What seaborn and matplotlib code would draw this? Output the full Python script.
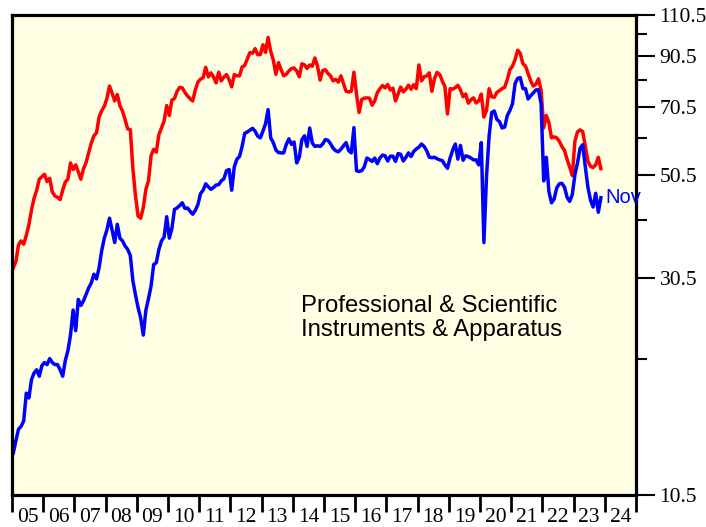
import numpy as np
import pandas as pd
import matplotlib
matplotlib.use("Agg")
import matplotlib.pyplot as plt
import seaborn as sns
from matplotlib.ticker import FixedLocator, FixedFormatter, NullFormatter

# ---------------- data ----------------
years = list(range(2005, 2025))
year_labels = [f"{y % 100:02d}" for y in years]
y_major = [10.5, 30.5, 50.5, 70.5, 90.5, 110.5]
y_minor = [20.5, 40.5, 60.5, 80.5, 100.5]
title_text = "Professional & Scientific\nInstruments & Apparatus"
end_label = "Nov"

# monthly, Jan 2005 .. Nov 2023
red_values = [
    32.0, 33.0, 35.8, 36.5, 35.9, 37.5, 39.5, 42.5, 45.0, 46.8, 49.4, 50.0,  # 2005
    50.6, 48.8, 49.6, 46.4, 45.5, 45.2, 44.7, 46.8, 48.7, 49.4, 53.5, 51.8,  # 2006
    53.0, 51.2, 49.4, 52.0, 53.6, 56.2, 59.0, 61.1, 62.0, 67.0, 69.1, 70.6,  # 2007
    73.4, 78.0, 75.3, 72.5, 74.8, 70.8, 69.0, 66.2, 63.2, 63.0, 52.0, 45.5,  # 2008
    41.2, 40.8, 43.0, 47.0, 49.0, 55.5, 57.2, 56.4, 61.5, 63.5, 65.7, 70.9,  # 2009
    67.5, 72.8, 73.4, 76.0, 77.5, 77.3, 75.6, 74.3, 73.3, 72.5, 76.5, 79.5,  # 2010
    80.7, 81.2, 85.5, 81.6, 83.2, 81.5, 79.2, 83.5, 80.0, 81.5, 82.5, 80.5,  # 2011
    77.7, 82.5, 82.0, 82.0, 85.6, 86.3, 89.0, 91.9, 91.6, 93.7, 91.0, 91.0,  # 2012
    95.5, 92.0, 99.0, 92.5, 88.6, 82.6, 87.5, 84.5, 82.0, 82.6, 84.0, 85.0,  # 2013
    85.2, 84.0, 81.6, 87.0, 86.5, 85.0, 86.5, 86.0, 89.5, 86.0, 80.3, 84.2,  # 2014
    84.5, 83.0, 82.0, 80.0, 80.6, 79.5, 82.0, 79.0, 76.0, 75.8, 76.0, 83.5,  # 2015
    75.0, 68.5, 73.0, 73.5, 73.6, 73.5, 71.0, 72.5, 75.5, 77.0, 78.2, 77.3,  # 2016
    78.6, 76.5, 77.2, 72.5, 75.0, 77.6, 75.8, 76.8, 78.3, 76.8, 78.5, 77.0,  # 2017
    86.5, 80.0, 81.6, 82.0, 83.2, 76.0, 81.0, 83.4, 82.5, 80.0, 77.8, 68.0,  # 2018
    77.0, 76.8, 77.4, 78.3, 76.5, 74.0, 75.0, 71.7, 72.9, 73.6, 71.8, 72.5,  # 2019
    75.0, 67.0, 69.2, 77.0, 74.0, 73.8, 75.6, 76.3, 77.0, 77.5, 80.5, 84.5,  # 2020
    86.0, 88.8, 93.0, 91.5, 87.0, 86.0, 83.0, 80.0, 78.0, 78.7, 80.8, 76.5,  # 2021
    63.5, 67.5, 65.2, 60.5, 60.8, 60.5, 59.5, 58.0, 56.9, 54.4, 52.4, 50.3,  # 2022
    59.5, 62.3, 62.9, 62.4, 58.0, 54.0, 52.6, 52.3, 53.0, 55.0, 52.0,        # 2023
]

blue_values = [
    12.9, 13.7, 14.5, 14.7, 15.1, 17.3, 16.9, 18.5, 19.1, 19.4, 18.8, 19.8,  # 2005
    20.1, 19.9, 20.5, 20.1, 19.9, 19.9, 19.4, 18.8, 20.3, 21.3, 23.0, 26.0,  # 2006
    23.5, 27.4, 26.6, 27.2, 28.1, 29.0, 29.7, 31.0, 30.3, 32.0, 34.8, 37.0,  # 2007
    38.5, 40.8, 38.5, 36.2, 39.6, 37.0, 36.5, 35.6, 35.0, 34.0, 30.0, 28.0,  # 2008
    26.3, 25.0, 23.0, 26.0, 27.5, 29.3, 32.5, 32.8, 35.0, 36.5, 37.2, 41.1,  # 2009
    37.0, 38.8, 42.6, 42.9, 43.4, 44.0, 42.8, 42.9, 42.2, 41.6, 42.4, 43.6,  # 2010
    46.0, 46.8, 48.3, 47.6, 47.0, 47.4, 48.0, 48.1, 49.0, 49.5, 51.5, 51.8,  # 2011
    46.8, 52.5, 54.5, 55.2, 58.0, 61.8, 62.3, 62.8, 63.4, 62.5, 61.0, 60.5,  # 2012
    62.5, 64.8, 69.5, 60.5, 59.1, 57.0, 56.3, 56.2, 56.2, 58.6, 60.2, 58.6,  # 2013
    59.3, 53.5, 55.0, 60.0, 61.1, 58.0, 63.5, 59.0, 58.0, 58.2, 58.0, 58.7,  # 2014
    60.0, 59.8, 58.8, 57.5, 56.8, 56.5, 57.2, 58.2, 59.1, 56.8, 56.2, 63.6,  # 2015
    51.5, 51.3, 51.5, 52.5, 54.8, 54.4, 53.9, 54.8, 53.3, 54.8, 55.6, 55.4,  # 2016
    54.0, 55.3, 55.3, 53.9, 56.0, 55.8, 54.0, 55.0, 56.2, 55.2, 56.6, 57.3,  # 2017
    57.8, 58.7, 58.0, 56.8, 55.0, 54.9, 55.0, 54.6, 54.3, 54.1, 53.0, 52.1,  # 2018
    54.8, 57.0, 58.7, 54.5, 58.3, 54.2, 55.4, 55.2, 54.8, 54.3, 54.3, 53.0,  # 2019
    59.1, 36.2, 50.0, 61.0, 68.5, 69.0, 66.2, 65.5, 63.5, 63.8, 67.5, 69.2,  # 2020
    71.5, 79.0, 81.0, 81.3, 77.0, 77.0, 73.2, 74.4, 75.4, 76.5, 76.6, 71.5,  # 2021
    49.0, 55.0, 46.5, 44.0, 44.8, 47.3, 48.3, 48.4, 47.5, 45.2, 44.3, 45.8,  # 2022
    50.5, 53.5, 57.5, 58.5, 52.5, 47.5, 44.6, 43.1, 46.1, 42.0, 45.1,        # 2023
]

n = len(blue_values)
month_pos = 2005 + (np.arange(n) + 0.5) / 12.0   # month centres in decimal years
df = pd.DataFrame({"t": month_pos, "red": red_values, "blue": blue_values})

# ---------------- figure ----------------
W, H = 706, 527
fig = plt.figure(figsize=(W / 100, H / 100), dpi=100)
fig.patch.set_facecolor("white")
ax = fig.add_axes([12 / W, 32 / H, 624 / W, 480 / H])
ax.set_facecolor("#FFFFE4")

sns.lineplot(data=df, x="t", y="red", color="#FF0000", linewidth=2.5, ax=ax)
sns.lineplot(data=df, x="t", y="blue", color="#0000FF", linewidth=2.5, ax=ax)

ax.set_yscale("log")
ax.set_ylim(10.5, 110.5)
ax.set_xlim(2005, 2025)
ax.set_xlabel("")
ax.set_ylabel("")

serif = "Liberation Serif"
sans = "Liberation Sans"

# y axis on the right
ax.yaxis.tick_right()
ax.yaxis.set_major_locator(FixedLocator(y_major))
ax.yaxis.set_major_formatter(FixedFormatter([f"{v:.1f}" for v in y_major]))
ax.yaxis.set_minor_locator(FixedLocator(y_minor))
ax.yaxis.set_minor_formatter(NullFormatter())
ax.tick_params(axis="y", which="major", direction="out", length=14, width=1.5,
               pad=3, labelsize=15.5, right=True, left=False, colors="black")
ax.tick_params(axis="y", which="minor", direction="out", length=8, width=1.5,
               right=True, left=False)

# x axis: ticks at year boundaries, labels centred in each year
ax.xaxis.set_major_locator(FixedLocator(list(range(2005, 2026))))
ax.xaxis.set_major_formatter(NullFormatter())
ax.xaxis.set_minor_locator(FixedLocator([y + 0.5 for y in years]))
ax.xaxis.set_minor_formatter(FixedFormatter(year_labels))
ax.tick_params(axis="x", which="major", direction="out", length=12, width=2)
ax.tick_params(axis="x", which="minor", length=0, pad=9, labelsize=15.5)

for lab in ax.get_xticklabels(minor=True) + ax.get_yticklabels():
    lab.set_fontfamily(serif)

for s in ax.spines.values():
    s.set_linewidth(2.3)
    s.set_color("black")

ax.text(0.463, 0.417, title_text, transform=ax.transAxes, ha="left", va="top",
        fontsize=17.2, family=sans, linespacing=1.1, color="black")

ax.annotate(end_label, xy=(month_pos[-1], blue_values[-1]), xytext=(3, 0),
            textcoords="offset points", ha="left", va="center",
            fontsize=14.5, family=sans, color="#0000FF", annotation_clip=False)

fig.savefig("out.png", dpi=100)
